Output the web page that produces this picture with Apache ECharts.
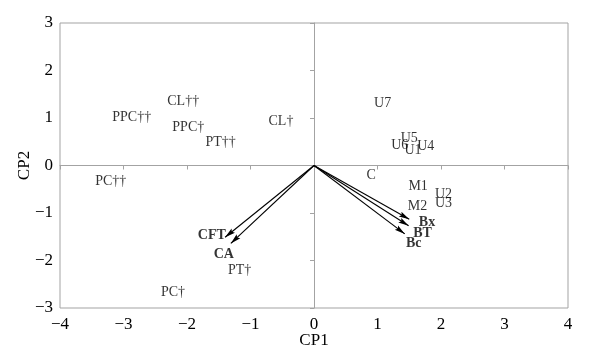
<!DOCTYPE html>
<html>
<head>
<meta charset="utf-8">
<script src="https://cdn.jsdelivr.net/npm/echarts@6/dist/echarts.min.js"></script>
<style>html,body{margin:0;padding:0;background:#fff;}#c{width:591px;height:359px;}</style>
</head>
<body>
<div id="c"></div>
<script>
// Observations (score labels)
var obsNames = ['PPC\u2020\u2020','CL\u2020\u2020','PPC\u2020','PT\u2020\u2020','CL\u2020','PC\u2020\u2020','PT\u2020','PC\u2020','U7','U5','U6','U1','U4','C','M1','U2','U3','M2'];
var obsX = [-2.87,-2.06,-1.98,-1.47,-0.52,-3.20,-1.17,-2.22,1.08,1.50,1.35,1.56,1.76,0.90,1.64,2.04,2.04,1.63];
var obsY = [1.01,1.36,0.80,0.48,0.92,-0.34,-2.20,-2.68,1.31,0.57,0.43,0.31,0.40,-0.20,-0.43,-0.60,-0.80,-0.87];
// Variables (loading arrows)
var varNames = ['CFT','CA','Bx','BT','Bc'];
var varX = [-1.40,-1.31,1.50,1.49,1.43];
var varY = [-1.51,-1.64,-1.13,-1.27,-1.44];
var varLabelX = [-1.61,-1.42,1.78,1.71,1.57];
var varLabelY = [-1.48,-1.87,-1.20,-1.43,-1.64];
// Axis ticks
var xTicks = {min:-4, max:4, step:1};
var yTicks = {min:-3, max:3, step:1};

var FONT = 'Liberation Serif';
var GRAY = '#a3a3a3';
function minus(v){ return String(v).replace('-', '\u2212'); }
// slender notched arrowhead: tip at the box centre, padded to a square box
var ARROW = 'path://M10,10L12.6,20L10,18.2L7.4,20Z M0,0L0.001,0L0,0.001Z M20,20L19.999,20L20,19.999Z';

var chart = echarts.init(document.getElementById('c'));
var gridRect = {left:60, right:23, top:23, bottom:51};

var obsData = obsNames.map(function(n,i){ return {name:n, value:[obsX[i], obsY[i]]}; });
var varLabelData = varNames.map(function(n,i){ return {name:n, value:[varLabelX[i], varLabelY[i]]}; });
var arrowData = varNames.map(function(n,i){ return {coords:[[0,0],[varX[i], varY[i]]]}; });

chart.setOption({
  animation:false,
  backgroundColor:'#fff',
  grid:[
    Object.assign({show:true, borderColor:GRAY, borderWidth:1, backgroundColor:'transparent'}, gridRect),
    Object.assign({show:false}, gridRect)
  ],
  xAxis:[
    {gridIndex:0, type:'value', min:xTicks.min, max:xTicks.max, interval:xTicks.step, position:'bottom',
     axisLine:{show:false, onZero:false}, axisTick:{show:false}, splitLine:{show:false},
     axisLabel:{color:'#000', fontFamily:FONT, fontSize:17, margin:8, formatter:minus},
     name:'CP1', nameLocation:'middle', nameGap:24, nameMoveOverlap:false,
     nameTextStyle:{color:'#000', fontFamily:FONT, fontSize:17}},
    {gridIndex:1, type:'value', min:xTicks.min, max:xTicks.max, interval:xTicks.step, position:'bottom',
     axisLine:{show:true, onZero:true, lineStyle:{color:GRAY, width:1}},
     axisTick:{show:true, inside:false, length:4, lineStyle:{color:GRAY}},
     axisLabel:{show:false}, splitLine:{show:false}}
  ],
  yAxis:[
    {gridIndex:0, type:'value', min:yTicks.min, max:yTicks.max, interval:yTicks.step, position:'left',
     axisLine:{show:false, onZero:false}, axisTick:{show:false}, splitLine:{show:false},
     axisLabel:{color:'#000', fontFamily:FONT, fontSize:17, margin:7, formatter:minus},
     name:'CP2', nameLocation:'middle', nameGap:27, nameRotate:90, nameMoveOverlap:false,
     nameTextStyle:{color:'#000', fontFamily:FONT, fontSize:17}},
    {gridIndex:1, type:'value', min:yTicks.min, max:yTicks.max, interval:yTicks.step, position:'left',
     axisLine:{show:true, onZero:true, lineStyle:{color:GRAY, width:1}},
     axisTick:{show:true, inside:false, length:4, lineStyle:{color:GRAY}},
     axisLabel:{show:false}, splitLine:{show:false}}
  ],
  series:[
    {type:'lines', coordinateSystem:'cartesian2d', xAxisIndex:0, yAxisIndex:0, z:5,
     symbol:['none', ARROW], symbolSize:[0,21],
     lineStyle:{color:'#000', width:1.1, opacity:1},
     data:arrowData},
    {type:'scatter', xAxisIndex:0, yAxisIndex:0, symbolSize:1, itemStyle:{color:'rgba(0,0,0,0)'}, z:6,
     label:{show:true, position:'inside', formatter:'{b}', color:'#000', fontFamily:FONT, fontSize:14},
     data:obsData},
    {type:'scatter', xAxisIndex:0, yAxisIndex:0, symbolSize:1, itemStyle:{color:'rgba(0,0,0,0)'}, z:6,
     label:{show:true, position:'inside', formatter:'{b}', color:'#000', fontFamily:FONT, fontSize:14, fontWeight:'bold'},
     data:varLabelData}
  ]
});
</script>
</body>
</html>
